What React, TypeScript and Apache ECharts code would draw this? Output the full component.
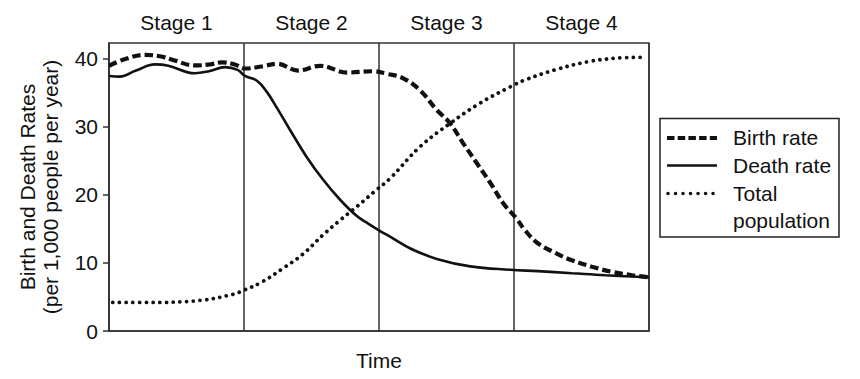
import React, { useEffect, useRef } from "react";
import * as echarts from "echarts";

const stageLabels = ["Stage 1", "Stage 2", "Stage 3", "Stage 4"];
const yTicks = [0, 10, 20, 30, 40];
const xAxisName = "Time";
const yAxisTitle = ["Birth and Death Rates", "(per 1,000 people per year)"];
const legendNames = ["Birth rate", "Death rate", "Total", "population"];

const birthX = [0, 3, 6.7, 9.4, 11.7, 15.9, 18.7, 20.9, 23.3, 25.2, 28.3, 31.1, 35, 39.1, 44.1, 48.9, 51.5, 54.4, 57.6, 60.7, 63.1, 65.6, 68.1, 70.6, 73, 75.5, 77, 79.4, 82.6, 85.7, 89.4, 93.1, 96.9, 100];
const birthY = [39.0, 40.0, 40.6, 40.4, 39.9, 39.05, 39.2, 39.5, 39.2, 38.6, 38.9, 39.3, 38.3, 39.0, 38.0, 38.2, 37.8, 37.2, 35.4, 32.5, 30.6, 27.6, 24.7, 21.8, 18.8, 16.5, 14.85, 12.9, 11.5, 10.4, 9.46, 8.7, 8.2, 7.9];

const deathX = [0, 2, 5, 8.5, 11, 15.9, 18.5, 21.5, 23.8, 25.2, 27.4, 29.2, 31.1, 33.5, 36.6, 39.7, 42.8, 45.9, 48, 50, 52.2, 55.9, 60.7, 66.9, 74.3, 79.4, 85.7, 91.9, 100];
const deathY = [37.5, 37.4, 38.3, 39.2, 39.0, 37.9, 38.2, 38.8, 38.4, 37.5, 36.8, 35.2, 32.8, 29.6, 25.6, 22.2, 19.3, 16.9, 15.8, 14.8, 13.8, 12.1, 10.6, 9.5, 9.0, 8.8, 8.5, 8.2, 7.9];

const popX = [0.7, 7.6, 16.9, 23, 25, 28.3, 32.2, 35.9, 39.6, 42.8, 45.9, 49.6, 52, 57.6, 63.1, 68.7, 74.3, 77, 82.6, 88.7, 93.7, 98.7];
const popY = [4.2, 4.2, 4.5, 5.4, 6.0, 7.2, 9.2, 11.3, 14.1, 16.3, 18.3, 20.8, 22.4, 27.1, 30.5, 33.5, 35.9, 36.9, 38.4, 39.6, 40.1, 40.25];

const FONT = "'Liberation Sans', Arial, Helvetica, sans-serif";
const INK = "#111";
const FS = 21;

const zip = (xs: number[], ys: number[]) => xs.map((x, i) => [x, ys[i]]);

export default function App() {
  const ref = useRef<HTMLDivElement>(null);
  useEffect(() => {
    if (!ref.current) return;
    const chart = echarts.init(ref.current, undefined, { renderer: "svg" });
    const gridLeft = 109, gridRight = 649, gridTop = 43, gridBottom = 331;
    const stageW = (gridRight - gridLeft) / stageLabels.length;
    const graphics: any[] = [];
    stageLabels.forEach((s, i) => {
      graphics.push({
        type: "text",
        x: gridLeft + stageW * (i + 0.5),
        y: 22,
        style: { text: s, fill: INK, font: `${FS}px ${FONT}`, align: "center", verticalAlign: "middle" },
      });
    });
    graphics.push({
      type: "text",
      x: 38.5,
      y: (gridTop + gridBottom) / 2,
      rotation: Math.PI / 2,
      style: {
        text: yAxisTitle.join("\n"),
        fill: INK,
        font: `${FS}px ${FONT}`,
        align: "center",
        verticalAlign: "middle",
        lineHeight: 23,
      },
    });
    // legend box
    const lx1 = 667, lx2 = 717;
    graphics.push({
      type: "rect",
      shape: { x: 660, y: 118.5, width: 179, height: 118.5 },
      style: { fill: "#fff", stroke: "#222", lineWidth: 1.5 },
    });
    graphics.push({
      type: "line",
      shape: { x1: lx1, y1: 138, x2: lx2, y2: 138 },
      style: { stroke: INK, lineWidth: 4.2, lineDash: [7.5, 3.2] },
    });
    graphics.push({
      type: "line",
      shape: { x1: lx1, y1: 165.5, x2: lx2, y2: 165.5 },
      style: { stroke: INK, lineWidth: 2.6 },
    });
    graphics.push({
      type: "line",
      shape: { x1: lx1 + 1, y1: 193.5, x2: lx2, y2: 193.5 },
      style: { stroke: INK, lineWidth: 3.6, lineDash: [0.01, 7.5], lineCap: "round" },
    });
    const ly = [137, 165, 193, 220];
    legendNames.forEach((n, i) => {
      graphics.push({
        type: "text",
        x: 733,
        y: ly[i],
        style: { text: n, fill: INK, font: `${FS}px ${FONT}`, align: "left", verticalAlign: "middle" },
      });
    });

    chart.setOption({
      animation: false,
      backgroundColor: "#fff",
      grid: {
        left: gridLeft,
        right: 860 - gridRight,
        top: gridTop,
        bottom: 379 - gridBottom,
        show: true,
        borderColor: "#333",
        borderWidth: 1.5,
        backgroundColor: "transparent",
      },
      xAxis: {
        type: "value",
        min: 0,
        max: 100,
        interval: 25,
        name: xAxisName,
        nameLocation: "middle",
        nameGap: 19,
        nameTextStyle: { fontFamily: FONT, fontSize: FS, color: INK },
        axisLine: { show: true, lineStyle: { color: "#333", width: 1.5 } },
        axisTick: { show: false },
        axisLabel: { show: false },
        splitLine: { show: true, lineStyle: { color: "#333", width: 1.5 } },
      },
      yAxis: {
        type: "value",
        min: 0,
        max: 42.35,
        interval: 10,
        axisLine: { show: true, lineStyle: { color: "#333", width: 1.5 } },
        axisTick: { show: true, length: 6, customValues: yTicks, lineStyle: { color: "#333", width: 1.5 } },
        axisLabel: {
          customValues: yTicks,
          margin: 11,
          fontFamily: FONT,
          fontSize: FS,
          color: INK,
        },
        splitLine: { show: false },
      },
      series: [
        {
          name: legendNames[0],
          type: "line",
          data: zip(birthX, birthY),
          smooth: 0.4,
          symbol: "none",
          lineStyle: { color: INK, width: 4.2, type: [8.5, 4], cap: "butt" },
          z: 3,
        },
        {
          name: legendNames[1],
          type: "line",
          data: zip(deathX, deathY),
          smooth: 0.4,
          symbol: "none",
          lineStyle: { color: INK, width: 2.6 },
          z: 3,
        },
        {
          name: legendNames[2] + " " + legendNames[3],
          type: "line",
          data: zip(popX, popY),
          smooth: 0.4,
          symbol: "none",
          lineStyle: { color: INK, width: 3.8, type: [0.01, 6.7], cap: "round" },
          z: 3,
        },
      ],
      graphic: graphics,
    });
    return () => chart.dispose();
  }, []);
  return <div ref={ref} style={{ width: 860, height: 379, position: "absolute", left: 0, top: 0 }} />;
}
